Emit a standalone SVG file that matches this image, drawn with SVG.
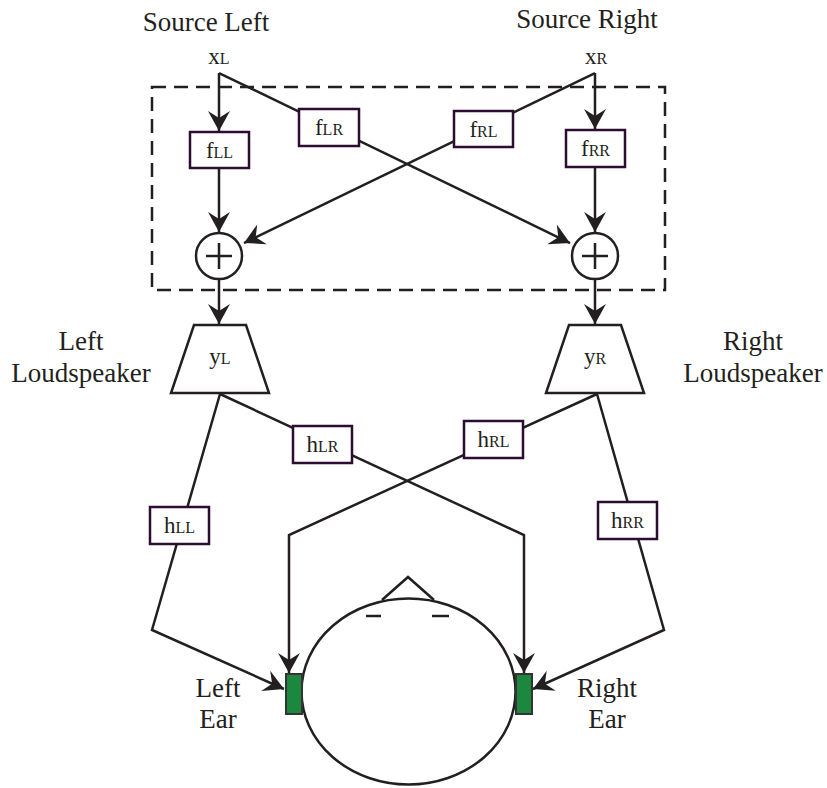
<svg xmlns="http://www.w3.org/2000/svg" width="827" height="788" viewBox="0 0 827 788">
  <style>
    text { font-family: "Liberation Serif", "DejaVu Serif", serif; fill: #231f20; }
    .lbl { font-size: 27px; text-anchor: middle; }
    .sym { font-size: 23px; text-anchor: middle; }
    .sc { font-size: 16px; }
    .wire { fill: none; stroke: #231f20; stroke-width: 2.5; }
    .arrow { fill: none; stroke: #231f20; stroke-width: 2.5; marker-end: url(#head); }
    .filt { fill: #ffffff; stroke: #2c0c30; stroke-width: 2.5; }
    .shape { fill: #ffffff; stroke: #231f20; stroke-width: 2.5; }
    .ear { fill: #1b873f; stroke: #333333; stroke-width: 2; }
  </style>
  <defs>
    <marker id="head" viewBox="-21 -12 22 24" refX="0" refY="0" markerWidth="22" markerHeight="24" orient="auto" markerUnits="userSpaceOnUse">
      <path d="M0,0 L-20,-11 L-13,0 L-20,11 Z" fill="#231f20"/>
    </marker>
  </defs>

  <!-- captions -->
  <text class="lbl" x="206" y="31">Source Left</text>
  <text class="lbl" x="587" y="28">Source Right</text>
  <text class="lbl" x="81" y="350">Left</text>
  <text class="lbl" x="81" y="382">Loudspeaker</text>
  <text class="lbl" x="753" y="350">Right</text>
  <text class="lbl" x="753" y="382">Loudspeaker</text>
  <text class="lbl" x="218" y="697">Left</text>
  <text class="lbl" x="218" y="728">Ear</text>
  <text class="lbl" x="607" y="697">Right</text>
  <text class="lbl" x="607" y="728">Ear</text>

  <!-- source signals -->
  <text class="sym" x="219" y="64">x<tspan class="sc">L</tspan></text>
  <text class="sym" x="596" y="64">x<tspan class="sc">R</tspan></text>

  <!-- crosstalk-cancellation block boundary -->
  <rect x="152" y="87" width="513" height="203" fill="none" stroke="#231f20" stroke-width="2.5" stroke-dasharray="14 8"/>

  <g id="connectors">
    <!-- source to filters -->
    <line class="arrow" x1="219" y1="73" x2="219" y2="131"/>
    <line class="arrow" x1="595" y1="73" x2="595" y2="129"/>
    <line class="arrow" x1="219" y1="73" x2="570" y2="243"/>
    <line class="arrow" x1="595" y1="73" x2="244" y2="243"/>
    <!-- filters to adders -->
    <line class="arrow" x1="219" y1="168" x2="219" y2="232"/>
    <line class="arrow" x1="595" y1="167" x2="595" y2="232"/>
    <!-- adders to loudspeakers -->
    <line class="arrow" x1="219" y1="279" x2="219" y2="324"/>
    <line class="arrow" x1="595" y1="279" x2="595" y2="324"/>
    <!-- acoustic paths to the ears -->
    <polyline class="arrow" points="220,394 152,630 284,689"/>
    <polyline class="arrow" points="597,394 664,630 533,689"/>
    <polyline class="arrow" points="220,394 524,535 524,673"/>
    <polyline class="arrow" points="597,394 289,535 289,673"/>
  </g>

  <g id="fLL">
    <rect class="filt" x="190" y="132" width="59" height="36"/>
    <text class="sym" x="219.5" y="158">f<tspan class="sc">LL</tspan></text>
  </g>
  <g id="fLR">
    <rect class="filt" x="299" y="109" width="60" height="37"/>
    <text class="sym" x="329" y="135">f<tspan class="sc">LR</tspan></text>
  </g>
  <g id="fRL">
    <rect class="filt" x="454" y="111" width="59" height="36"/>
    <text class="sym" x="483.5" y="137">f<tspan class="sc">RL</tspan></text>
  </g>
  <g id="fRR">
    <rect class="filt" x="566" y="130" width="59" height="37"/>
    <text class="sym" x="595.5" y="156">f<tspan class="sc">RR</tspan></text>
  </g>

  <g id="sumL">
    <circle class="shape" cx="219" cy="256" r="23"/>
    <path d="M206,256 H232 M219,243 V269" stroke="#231f20" stroke-width="2.5"/>
  </g>
  <g id="sumR">
    <circle class="shape" cx="595" cy="256" r="23"/>
    <path d="M582,256 H608 M595,243 V269" stroke="#231f20" stroke-width="2.5"/>
  </g>

  <g id="speakerL">
    <polygon class="shape" points="194,325 246,325 269,393 171,393"/>
    <text class="sym" x="220" y="364">y<tspan class="sc">L</tspan></text>
  </g>
  <g id="speakerR">
    <polygon class="shape" points="569,325 621,325 644,393 546,393"/>
    <text class="sym" x="595" y="364">y<tspan class="sc">R</tspan></text>
  </g>

  <g id="hLL">
    <rect class="filt" x="150" y="507" width="59" height="37"/>
    <text class="sym" x="179.5" y="533">h<tspan class="sc">LL</tspan></text>
  </g>
  <g id="hLR">
    <rect class="filt" x="293" y="426" width="59" height="37"/>
    <text class="sym" x="322.5" y="452">h<tspan class="sc">LR</tspan></text>
  </g>
  <g id="hRL">
    <rect class="filt" x="464" y="421" width="59" height="37"/>
    <text class="sym" x="493.5" y="447">h<tspan class="sc">RL</tspan></text>
  </g>
  <g id="hRR">
    <rect class="filt" x="598" y="502" width="59" height="37"/>
    <text class="sym" x="627.5" y="528">h<tspan class="sc">RR</tspan></text>
  </g>

  <g id="head">
    <ellipse class="shape" cx="408.5" cy="691.5" rx="107" ry="93"/>
    <polyline class="wire" points="382,600 408,577 434,600"/>
    <line class="wire" x1="366" y1="616" x2="381" y2="616"/>
    <line class="wire" x1="432" y1="616" x2="449" y2="616"/>
  </g>
  <g id="earL">
    <rect class="ear" x="286" y="674" width="16" height="40"/>
  </g>
  <g id="earR">
    <rect class="ear" x="516" y="674" width="16" height="40"/>
  </g>
</svg>
